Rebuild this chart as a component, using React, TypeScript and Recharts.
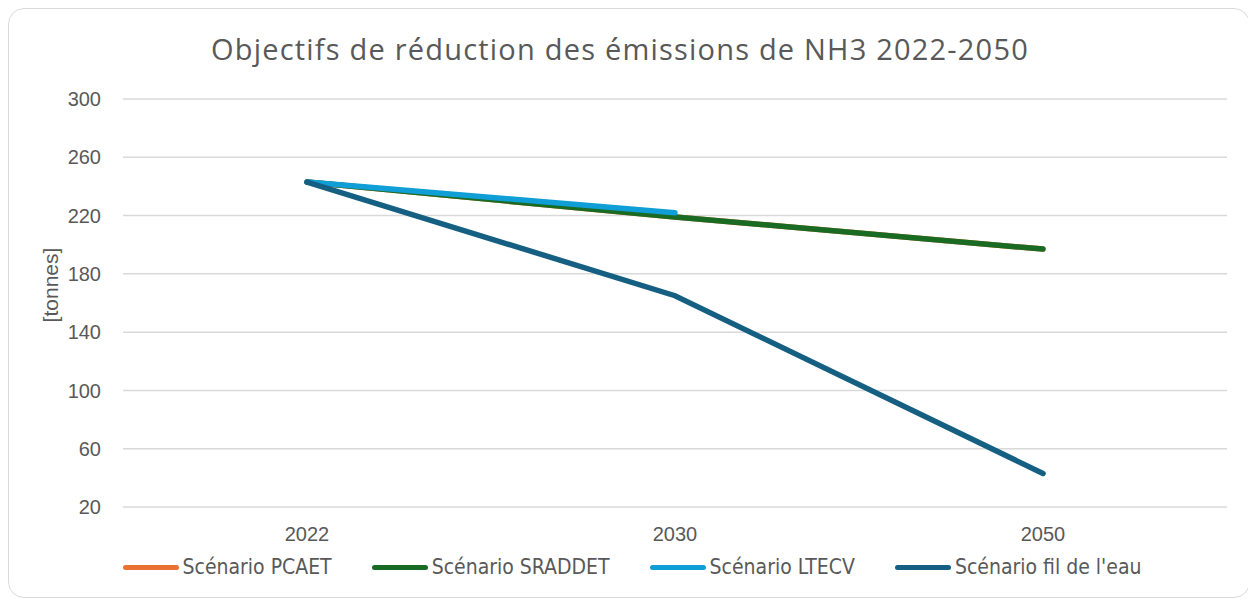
import { LineChart, Line, XAxis, YAxis, CartesianGrid, Legend } from "recharts";

const years = ["2022", "2030", "2050"];
const pcaet = [243, 219, 197];
const sraddet = [243, 219, 197];
const ltecv = [243, 222, null];
const filEau = [243, 165, 43];
const yTicks = [20, 60, 100, 140, 180, 220, 260, 300];
const seriesNames = [
  "Scénario PCAET",
  "Scénario SRADDET",
  "Scénario LTECV",
  "Scénario fil de l'eau",
];

const data = years.map((year, i) => ({
  year,
  pcaet: pcaet[i],
  sraddet: sraddet[i],
  ltecv: ltecv[i],
  filEau: filEau[i],
}));

const grey = "#595959";

const YLabel = (props: any) => {
  const vb = props.viewBox || { y: 90, height: 408 };
  const cx = 41;
  const cy = vb.y + vb.height / 2 - 18;
  return (
    <text
      x={cx}
      y={cy}
      transform={`rotate(-90, ${cx}, ${cy})`}
      textAnchor="middle"
      dominantBaseline="central"
      fill={grey}
      fontSize={21}
      fontFamily="Liberation Sans, Arial, sans-serif"
    >
      [tonnes]
    </text>
  );
};

const LegendContent = (props: any) => {
  const items = [...(props.payload || [])].sort(
    (a: any, b: any) => seriesNames.indexOf(a.value) - seriesNames.indexOf(b.value)
  );
  return (
    <div
      style={{
        display: "flex",
        justifyContent: "center",
        gap: 40,
        paddingLeft: 28,
        fontFamily: "'DejaVu Sans Condensed', sans-serif",
        fontSize: 21,
        color: grey,
      }}
    >
      {items.map((it: any) => (
        <div key={it.value} style={{ display: "flex", alignItems: "center" }}>
          <span
            style={{
              display: "inline-block",
              width: 56,
              height: 5,
              borderRadius: 3,
              background: it.color,
              marginRight: 4,
            }}
          />
          <span>{it.value}</span>
        </div>
      ))}
    </div>
  );
};

export default function App() {
  return (
    <div
      style={{
        position: "relative",
        width: 1240,
        height: 588,
        border: "1px solid #d9d9d9",
        borderRadius: 16,
        background: "#fff",
      }}
    >
      <div
        style={{
          position: "absolute",
          left: 0,
          right: 18,
          top: 20,
          textAlign: "center",
          fontFamily: "'Open Sans', sans-serif",
          fontSize: 29,
          letterSpacing: 1.2,
          color: grey,
          zIndex: 2,
        }}
      >
        Objectifs de réduction des émissions de NH3 2022-2050
      </div>
      <LineChart
        width={1240}
        height={588}
        data={data}
        margin={{ top: 90, right: 22, bottom: 18, left: 0 }}
      >
        <CartesianGrid vertical={false} stroke="#d9d9d9" strokeWidth={1.5} />
        <XAxis
          dataKey="year"
          axisLine={false}
          tickLine={false}
          tickSize={0}
          tickMargin={20}
          height={48}
          interval={0}
          padding={{ left: 184, right: 184 }}
          tick={{ fill: grey, fontSize: 20, fontFamily: "Liberation Sans, Arial, sans-serif" }}
        />
        <YAxis
          width={114}
          domain={[20, 300]}
          ticks={yTicks}
          interval={0}
          axisLine={false}
          tickLine={false}
          tickSize={0}
          tickMargin={22}
          tick={{ fill: grey, fontSize: 20, fontFamily: "Liberation Sans, Arial, sans-serif" }}
          label={<YLabel />}
        />
        <Legend verticalAlign="bottom" height={24} content={<LegendContent />} />
        <Line
          name={seriesNames[0]}
          dataKey="pcaet"
          stroke="#E97132"
          strokeWidth={5.5}
          strokeLinecap="round"
          dot={false}
          activeDot={false}
          isAnimationActive={false}
        />
        <Line
          name={seriesNames[1]}
          dataKey="sraddet"
          stroke="#196B24"
          strokeWidth={5.5}
          strokeLinecap="round"
          dot={false}
          activeDot={false}
          isAnimationActive={false}
        />
        <Line
          name={seriesNames[2]}
          dataKey="ltecv"
          stroke="#0F9ED5"
          strokeWidth={5.5}
          strokeLinecap="round"
          dot={false}
          activeDot={false}
          isAnimationActive={false}
        />
        <Line
          name={seriesNames[3]}
          dataKey="filEau"
          stroke="#156082"
          strokeWidth={5.5}
          strokeLinecap="round"
          dot={false}
          activeDot={false}
          isAnimationActive={false}
        />
      </LineChart>
    </div>
  );
}
